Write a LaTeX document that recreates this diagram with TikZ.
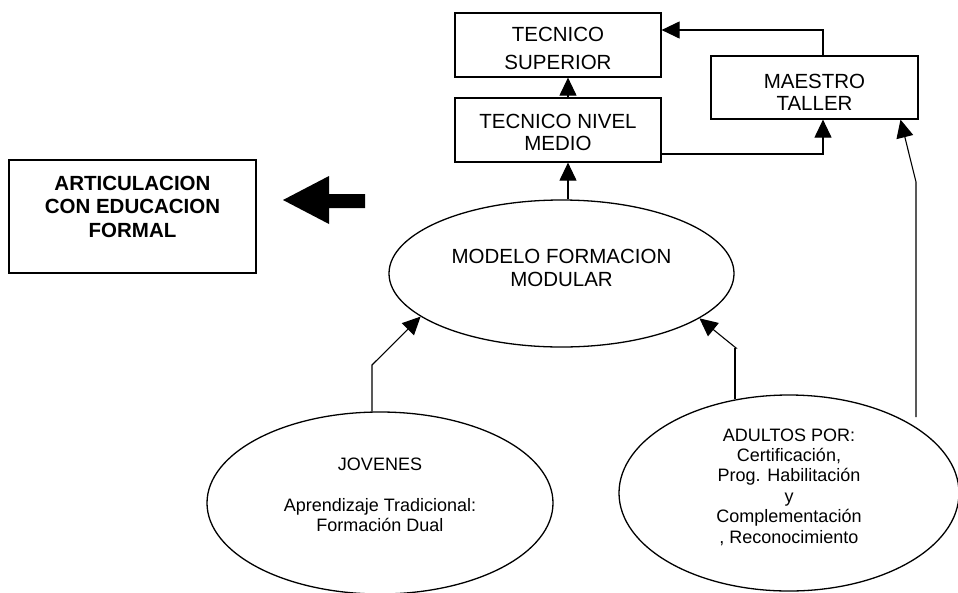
\documentclass[tikz,border=0pt]{standalone}
\usepackage{fontspec}
\setmainfont{Liberation Sans}
\usetikzlibrary{shapes.geometric,arrows.meta,calc}
\begin{document}
\begin{tikzpicture}[x=1pt,y=-1pt,
  boxshape/.style={draw,line width=1.2pt,inner sep=0pt},
  ellshape/.style={draw,ellipse,line width=1.3pt,inner sep=0pt},
  bigtext/.style={align=center,inner sep=0pt,font=\fontsize{20.5}{22.5}\selectfont},
  boldtext/.style={align=center,inner sep=0pt,font=\fontsize{20.5}{23.5}\selectfont\bfseries},
  smalltext/.style={align=center,inner sep=0pt,font=\fontsize{18}{20.4}\selectfont},
  arr/.style={line width=1.1pt,-{Triangle[length=18pt,width=17pt]}}]
\useasboundingbox (0,0) rectangle (958,592);

% Articulacion box
\node[boxshape,minimum width=247pt,minimum height=113pt] (art) at (132.5,216.5) {};
\node[boldtext] (artt) at (132.5,206.5) {ARTICULACION\\CON EDUCACION\\FORMAL};

% block arrow
\fill (365,194) -- (329,194) -- (329,176) -- (283,200) -- (329,224) -- (329,208) -- (365,208) -- cycle;

% top boxes
\node[boxshape,minimum width=206pt,minimum height=64pt] (ts) at (558,45) {};
\node[bigtext] (tst) at (558,48.5) {TECNICO\\[6pt]SUPERIOR};
\node[boxshape,minimum width=206pt,minimum height=64pt] (tnm) at (558,130) {};
\node[bigtext] (tnmt) at (558,132.5) {TECNICO NIVEL\\MEDIO};
\node[boxshape,minimum width=207pt,minimum height=63pt] (mt) at (814.5,87.5) {};
\node[bigtext] (mtt) at (814.5,92.5) {MAESTRO\\TALLER};

% ellipses
\node[ellshape,minimum width=345pt,minimum height=147pt] (modelo) at (561.5,273.5) {};
\node[bigtext] (modelot) at (561.5,268) {MODELO FORMACION\\MODULAR};
\node[ellshape,minimum width=346pt,minimum height=182pt] (jov) at (380,503) {};
\node[smalltext] (jovt) at (380,495) {JOVENES\\[20.4pt]Aprendizaje Tradicional:\\Formación Dual};
\node[ellshape,minimum width=340pt,minimum height=196pt] (adu) at (789,493) {};
\node[smalltext] (adut) at (789,487) {ADULTOS POR:\\Certificación,\\Prog. Habilitación\\y\\Complementación\\, Reconocimiento};

% bend points
\coordinate (jb) at (372,365);
\coordinate (ab) at (736,348);
\coordinate (rs) at (916,417);
\coordinate (rb) at (916,182);

% connectors
\draw[arr] ([xshift=10pt]tnm.south |- modelo.north) -- ([xshift=10pt]tnm.south);
\draw[arr] ([xshift=10pt]tnm.north) -- ([xshift=10pt]ts.south);
\draw[arr] ([xshift=8.5pt]mt.north) |- ([yshift=15pt]ts.east);
\draw[arr] ([yshift=-24pt]tnm.east) -| ([xshift=8.5pt]mt.south);
\draw[arr] (jov.north -| jb) -- (jb) -- (modelo.197);
\draw[arr] (adu.120 |- ab) -- (ab) -- (modelo.342);
\draw[line width=1.1pt] (adu.120) -- (adu.120 |- ab);
\draw[arr] (rs) -- (rb) -- ([xshift=86pt]mt.south);
\end{tikzpicture}
\end{document}
